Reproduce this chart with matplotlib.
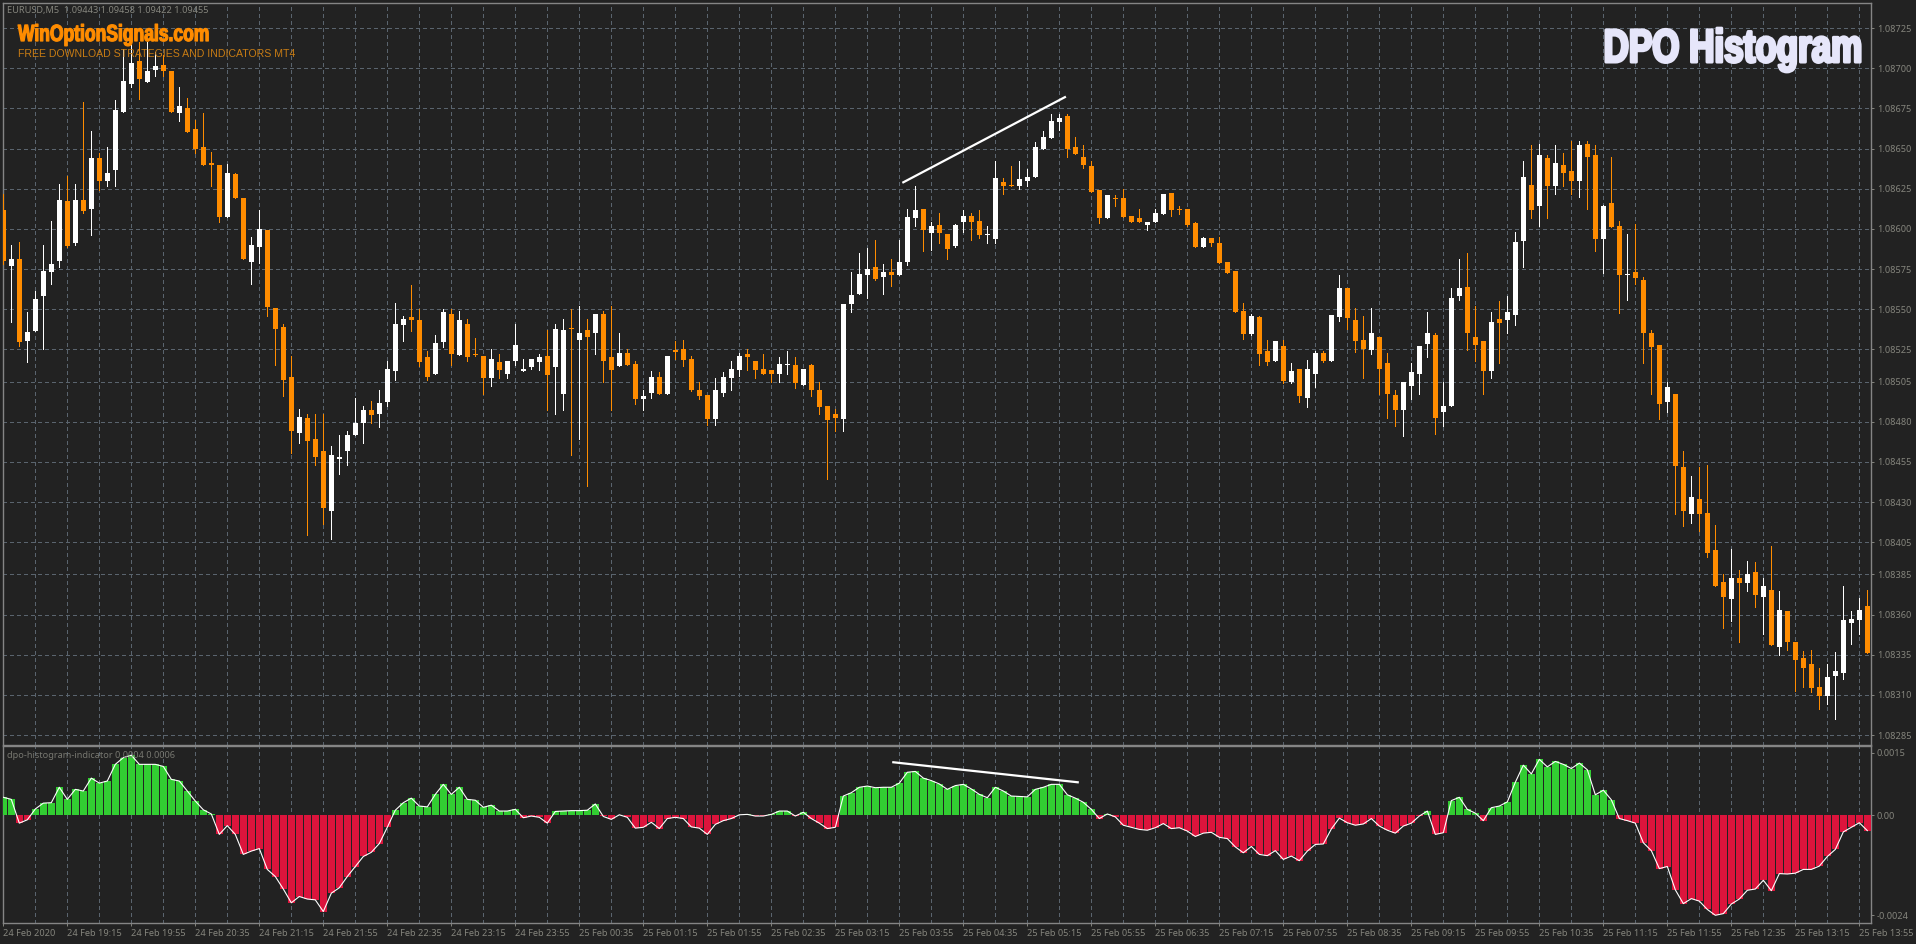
import numpy as np
import matplotlib
matplotlib.use('Agg')
import matplotlib.pyplot as plt
import matplotlib.patheffects as pe
from matplotlib.transforms import Affine2D

# prices are points above 1.08000
open_pts = [612,577,581.5,530,536.5,558,573,580,617.5,591,
    618,612.5,644,630,636.5,673,690,704.5,691.5,699,
    702,698,672,675,662,651,640.5,640,607.5,634,
    619.5,579.5,589,599.5,551,539,508,473,482,469,
    461.5,424.5,456.5,461.5,471.5,479,487.5,484.5,492,511.5,
    540,545,543,520,510,529.5,547,521.5,541,522,
    521,507.5,517,510,518,511.5,514,517,521,514,
    497.5,538,531,537,535,547,520,514.5,522.5,516,
    494,498,508,497,524,525,519,499.5,496.5,481.5,
    498,507.5,512,522,518,513,512,510,515,515.5,
    503,515.5,499.5,489.5,484.5,481.5,553.5,559.5,571,576.5,
    570,573,571,579.5,607,612.5,597.5,602.5,597,589.5,
    604,608,605,596,594,629,627,627,630,632,
    650,656.5,666.5,670,651,645,639,624,607,619.5,
    619,608,606.5,602.5,604.5,609.5,622.5,612.5,612.5,603.5,
    589,594.5,591.5,579.5,574,549,534.5,545,524,518,
    527,505,512.5,494.5,510,522.5,517.5,545,563,543,
    531,524.5,532.5,516.5,496.5,487,502.5,510,528.5,534,
    486,489.5,558,564,532.5,530,511.5,544,543,546.5,
    592.5,627.5,614,644,627,640,636,629.5,653,646,
    593.5,616,601.5,571,573,568,535,527.5,492,497.5,
    452,422.5,432,423,400,380,369.5,382.5,379.5,386.5,
    371,375,339.5,362,343,333,329,315,309.5,321.5,
    323.5,354.5,356.5,365]
close_pts = [580,581,529.5,536,556.5,574,578,618,589.5,618,
    611,644,630,635,674,692,703,693,698,701.5,
    698,672.5,676.5,660,650,640,640,607.5,635,619.5,
    581,590,600,551.5,537.5,506,474,483,468,458,
    426.5,459,458,471.5,479.5,487.5,484,491.5,513,541,
    544,543,517,508,529,548,522,543,520,521.5,
    507,519,512,517.5,527.5,512.5,519,520,509,538,
    537,537.5,535.5,533,547,518,512,522.5,515,494,
    496,508,497,521,523.5,518.5,499.5,496,481.5,500,
    508,513,521,520,512,510,510,516,516,504,
    513,499.5,489,481,482.5,553,559,572,575,569,
    573,571.5,579.5,607.5,611.5,599,601.5,597.5,587.5,602.5,
    608,604,596.5,597,631.5,626.5,626.5,631,632,651,
    657,667,669,649.5,646.5,639.5,623,607,621,618.5,
    607.5,604.5,604.5,604.5,610,622,611.5,611.5,602.5,589,
    594.5,591.5,579,572.5,548,534.5,545.5,522,517,530,
    505.5,511.5,496,512.5,522.5,517.5,546.5,563,544.5,530,
    525,535,512.5,497,487,504.5,511,527,535,482.5,
    489.5,557,563,535,528,511.5,542,541.5,548,592,
    632.5,612,646,626.5,641,635,630,652,644.5,593.5,
    614,601,571.5,572,569.5,535,526.5,491,501.5,452.5,
    424.5,433,422.5,398,377.5,371,382.5,379.5,385,372,
    377.5,341,363,343,331.5,326.5,314.5,309.5,321,325,
    356.5,357,363,336]
high_pts = [622,590,592,548,561.5,590,605,628,633,628,
    679,661,647,651,680,712,714.5,716.5,716.5,710,
    708,698,688,681.5,668,672,648,640,640.5,635,
    619.5,595,611.5,599.5,551,541,521,488,484.5,484.5,
    485,465,472,474.5,494.5,490,493,499.5,518,554,
    546,565,550,524,534,550,550,549,544,532,
    521,525,522,517.5,541,519,519,522,537,541,
    544,550,552,544,547,549,552,535,525,518,
    500,511.5,511,521,530,531,521,505,496.5,507.5,
    511,518,523,525,518,522,512,520,524,520,
    513,516,505,489.5,488,553.5,573,585,588,593,
    578,581.5,593,612.5,627,612.5,604.5,610,597,603,
    611.5,610,611.5,601.5,642.5,631.5,639,642.5,637.5,654,
    661,671.5,671.5,671.5,657,652,642.5,624,621,621,
    625,608,612.5,604.5,612.5,622,622.5,614,612.5,604.5,
    595,594.5,595,579.5,574,554,547,545.5,531,530,
    531,516.5,512.5,518.5,524,524,546.5,571.5,563,551,
    546,551,532.5,523,499.5,505,516.5,527,548,535,
    505,563,581.5,585,552,530,548,555,558,598,
    642,652,653,646,652,647,655,655,655,652,
    615,645,605,597,603,570,537,527.5,505,497.5,
    461.5,446.5,451.5,453,416,385,401,388,393,392.5,
    382.5,402.5,374.5,362,343,337,338,327,329,336.5,
    378,362,370,375]
low_pts = [578,542,527,517,536.5,525,566,576,589,590,
    610,596,624,626.5,627,673,688,681,691.5,695,
    695,672.5,667,660,647,640,627,604.5,607.5,619.5,
    581,566,579,545.5,515,496,460.5,466.5,409.5,453,
    416.5,407,447.5,453,471.5,466.5,479,476.5,489.5,506,
    530,536.5,514.5,506,510,526.5,515,521.5,518,521,
    497,502.5,507.5,507,515,511.5,513,512,487.5,484.5,
    487.5,459.5,469,440,522,505,487,514.5,515,491,
    487,494.5,497,497,519,514.5,499,494,478,478,
    496,499.5,508.5,512,507,510,505,505,510,501,
    503,496,484.5,444.5,474,474.5,548,559.5,557,568,
    559.5,564.5,571,577.5,602,586,587,591.5,581,589,
    598,593,594.5,591.5,591.5,622,626.5,625,626.5,632,
    650,656.5,661.5,645,646.5,638,623,603.5,607,614,
    607.5,604,604.5,599,604,609.5,608,609,602,589,
    589,589.5,579,572.5,548,531.5,534,515,515,518,
    504,504,492,489,501.5,517,517.5,542.5,538,523.5,
    507.5,522,497,482.5,477.5,471,494,497.5,520,472.5,
    477.5,489.5,556,524.5,518,497,507,516.5,535,540,
    576.5,607,602,607,621.5,626.5,621.5,620,612.5,586,
    572.5,601,547.5,556,566,516.5,497,481.5,486,422.5,
    415,417,412,396,377.5,351.5,356,343,374.5,364.5,
    348,341,334.5,338,312.5,315,311.5,301.5,304.5,295,
    320,341.5,348,336]

# dpo histogram, in units of 0.00001
dpo = [43,38,-19,-11,15,29,30,67,38,62,
    58,89,77,82,122,138,144,122,122,122,
    117,86,82,58,34,13,3,-46,-25,-46,
    -94,-86,-80,-130,-147,-177,-210,-195,-201,-203,
    -231,-187,-174,-147,-123,-99,-89,-68,-29,12,
    30,41,22,20,50,74,50,67,38,36,
    19,24,10,10,14,-6,-2,-5,-19,9,
    10,11,11,12,27,-3,-10,1,-5,-31,
    -29,-17,-32,-8,-5,-8,-28,-31,-46,-22,
    -13,-8,1,2,-2,-2,2,10,10,-2,
    7,-8,-19,-32,-29,46,54,67,70,66,
    67,67,77,103,105,89,83,75,62,71,
    74,63,50,42,67,58,46,45,44,62,
    67,74,74,49,41,31,14,-8,3,-4,
    -24,-29,-34,-36,-30,-20,-32,-30,-38,-51,
    -43,-41,-53,-56,-76,-90,-75,-94,-97,-85,
    -106,-98,-109,-86,-70,-69,-33,-7,-18,-24,
    -21,-8,-26,-36,-43,-26,-19,-2,10,-46,
    -42,35,43,14,5,-13,18,22,32,79,
    120,99,134,116,129,122,112,125,109,49,
    60,37,-8,-13,-19,-66,-85,-128,-123,-179,
    -212,-200,-206,-226,-240,-236,-213,-201,-180,-177,
    -156,-181,-140,-141,-139,-130,-130,-122,-99,-82,
    -40,-29,-18,-37]

price_ticks = [725,700,675,650,625,600,575,550,525,505,480,455,430,405,385,360,335,310,285]
time_labels = ['24 Feb 2020','24 Feb 19:15','24 Feb 19:55','24 Feb 20:35','24 Feb 21:15','24 Feb 21:55',
    '24 Feb 22:35','24 Feb 23:15','24 Feb 23:55','25 Feb 00:35','25 Feb 01:15','25 Feb 01:55',
    '25 Feb 02:35','25 Feb 03:15','25 Feb 03:55','25 Feb 04:35','25 Feb 05:15','25 Feb 05:55',
    '25 Feb 06:35','25 Feb 07:15','25 Feb 07:55','25 Feb 08:35','25 Feb 09:15','25 Feb 09:55',
    '25 Feb 10:35','25 Feb 11:15','25 Feb 11:55','25 Feb 12:35','25 Feb 13:15','25 Feb 13:55']
dpo_ticks = [150,0,-240]
dpo_tick_labels = ['0.0015','0.00','-0.0024']

# hand drawn divergence lines
price_line_x = [112.5,132.7]
price_line_y = [629,682]
dpo_line_x = [111.25,134.3]
dpo_line_y = [127,79]

W, H = 1916, 944
BG = '#222222'
ORANGE = '#ff8c00'
GRID = '#5a646e'
FRAME = '#858585'
LABEL = '#85857d'
FONT = 'Noto Sans'
HEAVY = 'Liberation Sans'

def box(l, t, r, b):
    return [l/W, 1-b/H, (r-l)/W, (b-t)/H]

# squeezes a bold text sideways, there is no Impact here
class Squeeze(pe.AbstractPathEffect):
    def __init__(self, sx, anchor, stroke, color):
        super().__init__()
        self.sx = sx
        self.anchor = anchor
        self.stroke = stroke
        self.color = color
    def draw_path(self, renderer, gc, tpath, affine, rgbFace=None):
        squeezed = affine + Affine2D().translate(-self.anchor, 0).scale(self.sx, 1).translate(self.anchor, 0)
        gc0 = renderer.new_gc()
        gc0.copy_properties(gc)
        gc0.set_linewidth(self.stroke)
        gc0.set_foreground(self.color)
        renderer.draw_path(gc0, tpath, squeezed, rgbFace)
        gc0.restore()

o = np.array(open_pts)
c = np.array(close_pts)
hi = np.array(high_pts)
lo = np.array(low_pts)
d = np.array(dpo)
x = np.arange(len(o))
colors = np.where(c >= o, 'white', ORANGE)

fig = plt.figure(figsize=(W/100, H/100), dpi=100, facecolor=BG)
ax = fig.add_axes(box(2.5, 2.5, 1870.7, 744.5), facecolor=BG)
ax2 = fig.add_axes(box(2.5, 746, 1870.7, 923), facecolor=BG)

# candles
ax.vlines(x, lo, hi, colors=colors, linewidth=0.72, antialiased=False, zorder=3)
body_h = np.maximum(np.abs(c-o), 0.9)
ax.bar(x, body_h, bottom=np.minimum(o, c), width=0.625, color=colors, linewidth=0, antialiased=False, zorder=4)
ax.plot(price_line_x, price_line_y, color='white', linewidth=1.6, zorder=5)
ax.set_xlim(-0.1, 233.42)
ax.set_ylim(279.1, 740.9)
ax.set_yticks(price_ticks)
ax.set_yticklabels([f'{1.08 + p/1e5:.5f}' for p in price_ticks])
ax.yaxis.tick_right()
ax.set_xticks([])

# indicator
ax2.bar(x, d, width=0.875, color=np.where(d >= 0, '#32cd32', '#dc143c'), linewidth=0, antialiased=False, zorder=3)
ax2.plot(x, d, color='white', linewidth=0.8, zorder=4)
ax2.plot(dpo_line_x, dpo_line_y, color='white', linewidth=1.6, zorder=5)
ax2.set_xlim(-0.1, 233.42)
ax2.set_ylim(-258.5, 166)
ax2.set_yticks(dpo_ticks)
ax2.set_yticklabels(dpo_tick_labels)
ax2.yaxis.tick_right()
ax2.set_xticks(np.arange(0, 233, 8))
ax2.set_xticklabels(time_labels, ha='left')

for a in [ax, ax2]:
    for s in a.spines.values():
        s.set_color(FRAME)
        s.set_linewidth(1)
    a.tick_params(colors=LABEL, labelcolor=LABEL, labelsize=6.6, length=2, width=0.7, pad=2.5)
    for t in a.get_xticklabels() + a.get_yticklabels():
        t.set_family(FONT)
    for g in np.arange(0, 234, 4):
        a.axvline(g, color=GRID, linewidth=0.72, linestyle=(0, (4, 3)), antialiased=False, zorder=1)
for p in price_ticks:
    ax.axhline(p, color=GRID, linewidth=0.72, linestyle=(0, (4, 3)), antialiased=False, zorder=1)

# header text
fig.text(7/W, 1-10.7/H, 'EURUSD,M5  1.09443 1.09458 1.09422 1.09455', color=LABEL, fontsize=6.6, family=FONT, va='center')
fig.text(7/W, 1-755.7/H, 'dpo-histogram-indicator 0.0004 0.0006', color='#777770', fontsize=6.6, family=FONT, va='center')
logo = fig.text(18/W, 1-41/H, 'WinOptionSignals.com', color=ORANGE, fontsize=16.8, family=HEAVY, weight='bold', va='baseline', zorder=6)
logo.set_path_effects([Squeeze(0.75, 18, 0.9, ORANGE)])
fig.text(18/W, 1-54/H, 'FREE DOWNLOAD STRATEGIES AND INDICATORS MT4', color='#c87c14', fontsize=7.6, family='Liberation Sans', va='center', zorder=6)
title = fig.text(1862/W, 1-62/H, 'DPO Histogram', color='#e6e6fa', fontsize=33.6, family=HEAVY, weight='bold', ha='right', va='baseline', zorder=6)
title.set_path_effects([Squeeze(0.75, 1862, 2.2, '#e6e6fa')])

fig.savefig('out.png', dpi=100, facecolor=BG)
